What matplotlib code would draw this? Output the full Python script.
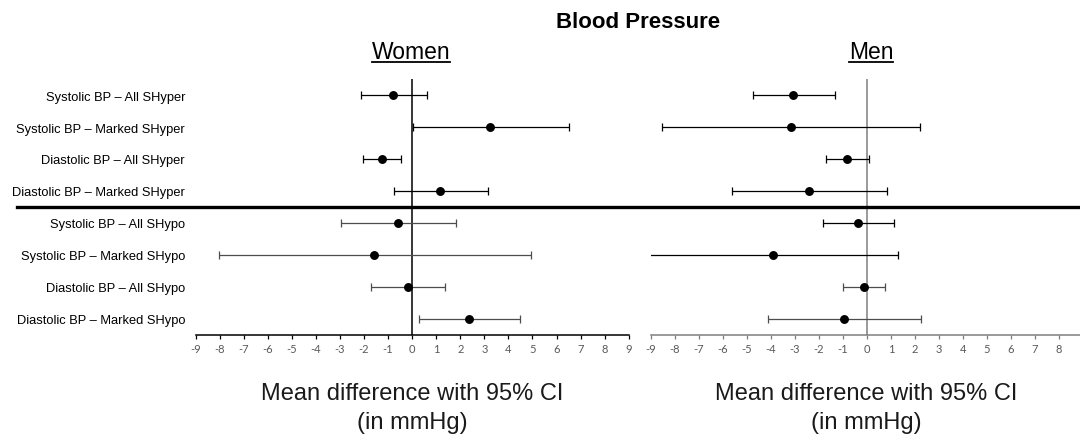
import matplotlib
matplotlib.use("Agg")
import matplotlib.pyplot as plt
from matplotlib.lines import Line2D
import numpy as np

plt.rcParams['axes.unicode_minus'] = False
plt.rcParams['font.family'] = ['Liberation Sans', 'DejaVu Sans']

labels = [
    "Systolic BP \u2013 All SHyper",
    "Systolic BP \u2013 Marked SHyper",
    "Diastolic BP \u2013 All SHyper",
    "Diastolic BP \u2013 Marked SHyper",
    "Systolic BP \u2013 All SHypo",
    "Systolic BP \u2013 Marked SHypo",
    "Diastolic BP \u2013 All SHypo",
    "Diastolic BP \u2013 Marked SHypo",
]

women_mean = [-0.79, 3.24, -1.27, 1.18, -0.58, -1.59, -0.18, 2.38]
women_lo = [-2.13, 0.03, -2.02, -0.76, -2.95, -8.03, -1.72, 0.28]
women_hi = [0.60, 6.50, -0.48, 3.15, 1.83, 4.92, 1.37, 4.50]

men_mean = [-3.07, -3.17, -0.83, -2.40, -0.38, -3.92, -0.14, -0.95]
men_lo = [-4.76, -8.53, -1.71, -5.63, -1.82, -9.08, -1.01, -4.11]
men_hi = [-1.35, 2.21, 0.10, 0.85, 1.13, 1.30, 0.76, 2.25]

women_ticks = list(range(-9, 10))
men_ticks = list(range(-9, 9))

W, H = 1080, 435
fig = plt.figure(figsize=(W / 100, H / 100), dpi=100)

y_bottom = 1 - 336 / H
y_height = (336 - 80) / H
ax_w = fig.add_axes([195.5 / W, y_bottom, (628.7 - 195.5) / W, y_height])
ax_m = fig.add_axes([651 / W, y_bottom, (1080 - 651) / W, y_height])

rows = np.arange(1, len(labels) + 1)

row_colors_w = ['black'] * 4 + ['#4d4d4d'] * 4
row_colors_m = ['black'] * 4 + ['black', 'black', '#4d4d4d', '#4d4d4d']


def draw(ax, mean, lo, hi, colors, xlim, ticks, zcolor):
    for i, y in enumerate(rows):
        m = mean[i]
        err = [[m - lo[i]], [hi[i] - m]]
        ax.errorbar([m], [y], xerr=err, fmt='o', color='black',
                    ecolor=colors[i], elinewidth=0.9, capsize=2.6,
                    capthick=0.9, markersize=5.4, zorder=3)
    ax.axvline(0, color=zcolor, lw=1.1, zorder=2)
    ax.set_xlim(*xlim)
    ax.set_ylim(8.5, 0.5)
    ax.set_xticks(ticks)
    ax.set_xticklabels([str(t) for t in ticks], fontfamily=['Lato', 'DejaVu Sans'],
                       fontsize=8, color='#595959')
    ax.tick_params(axis='x', direction='out', length=3, width=0.9,
                   color=zcolor, pad=3)
    for s in ['top', 'right', 'left']:
        ax.spines[s].set_visible(False)
    ax.spines['bottom'].set_color(zcolor)
    ax.spines['bottom'].set_linewidth(1.1)
    ax.patch.set_alpha(0)


draw(ax_w, women_mean, women_lo, women_hi, row_colors_w, (-9, 9), women_ticks, 'black')
draw(ax_m, men_mean, men_lo, men_hi, row_colors_m, (-9, (1080 - 867) / 24.0), men_ticks, '#7f7f7f')

ax_w.set_yticks(rows)
ax_w.set_yticklabels(labels, fontsize=9.3)
ax_w.tick_params(axis='y', length=0, pad=7.5)
ax_m.set_yticks([])

# separator line
fig.add_artist(Line2D([17 / W, 1.0], [1 - 208.3 / H] * 2, color='black', lw=2.4,
                      transform=fig.transFigure))

# titles
fig.text(638 / W, 1 - 23 / H, "Blood Pressure", ha='center', va='center',
         fontsize=16, fontweight='bold')
t_w = fig.text(411 / W, 1 - 52.5 / H, "Women", ha='center', va='center', fontsize=16.5)
t_m = fig.text(871 / W, 1 - 52.5 / H, "Men", ha='center', va='center', fontsize=16.5)

xl = "Mean difference with 95% CI\n(in mmHg)"
fig.text(412 / W, 1 - 408.5 / H, xl, ha='center', va='center', fontsize=17,
         linespacing=1.36, color='#1a1a1a')
fig.text(866 / W, 1 - 408.5 / H, xl, ha='center', va='center', fontsize=17,
         linespacing=1.36, color='#1a1a1a')

fig.canvas.draw()
r = fig.canvas.get_renderer()
for t in (t_w, t_m):
    bb = t.get_window_extent(r)
    yline = 1 - 63 / H
    fig.add_artist(Line2D([bb.x0 / W, bb.x1 / W], [yline, yline], color='black',
                          lw=1.3, transform=fig.transFigure))

fig.savefig("out.png", dpi=100)
